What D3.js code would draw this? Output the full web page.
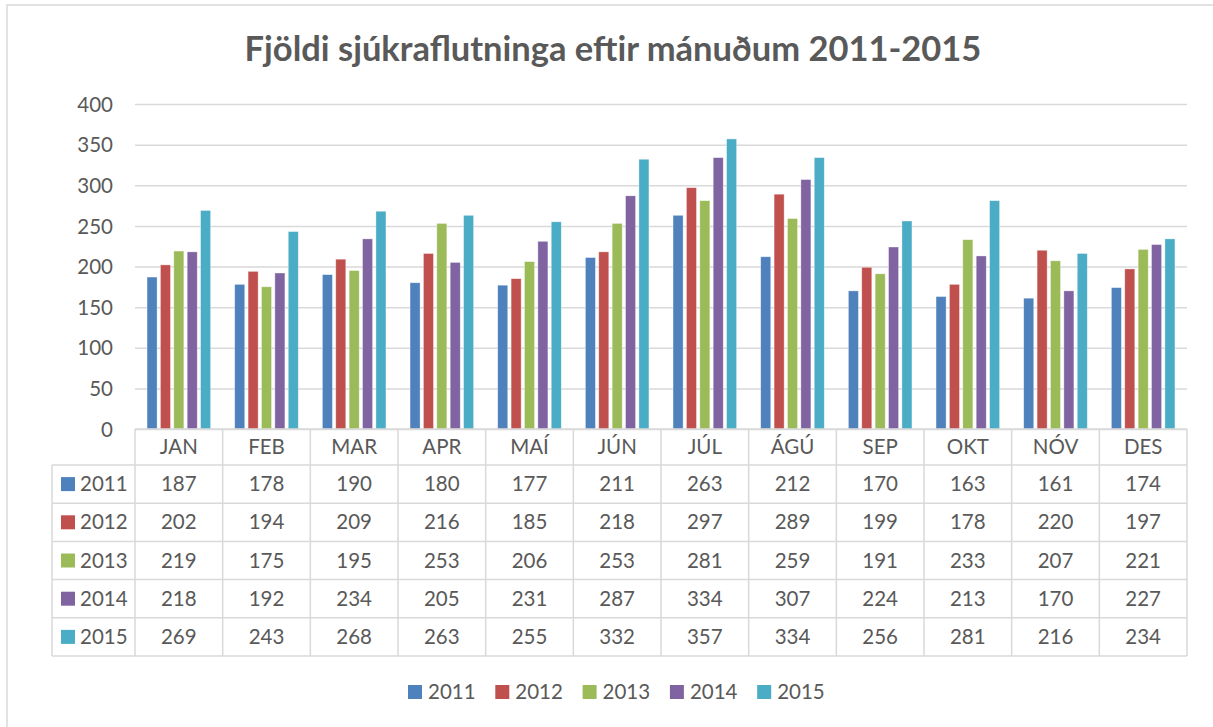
<!DOCTYPE html>
<html><head><meta charset="utf-8">
<script src="https://cdn.jsdelivr.net/npm/d3@7"></script>
<style>body{margin:0;background:#fff;} svg{display:block;}</style>
</head><body>
<svg id="c" width="1213" height="727"></svg>
<script>
const months = ["JAN","FEB","MAR","APR","MAÍ","JÚN","JÚL","ÁGÚ","SEP","OKT","NÓV","DES"];
const seriesNames = ["2011","2012","2013","2014","2015"];
const v2011 = [187,178,190,180,177,211,263,212,170,163,161,174];
const v2012 = [202,194,209,216,185,218,297,289,199,178,220,197];
const v2013 = [219,175,195,253,206,253,281,259,191,233,207,221];
const v2014 = [218,192,234,205,231,287,334,307,224,213,170,227];
const v2015 = [269,243,268,263,255,332,357,334,256,281,216,234];
const colors = ["#4F81BD","#C0504D","#9BBB59","#8064A2","#4BACC6"];
const yTicks = [0,50,100,150,200,250,300,350,400];
const title = "Fjöldi sjúkraflutninga eftir mánuðum 2011-2015";

const series = [v2011,v2012,v2013,v2014,v2015];
const svg = d3.select("#c");
const font = "Lato, 'Open Sans', sans-serif";
const txt = "#595959", grid = "#d9d9d9";

// outer frame
svg.append("rect").attr("x",7).attr("y",5).attr("width",1220).attr("height",740)
  .attr("fill","none").attr("stroke","#d9d9d9").attr("stroke-width",1.5);

const pLeft = 135, pRight = 1187, pTop = 104, pBottom = 429;
const x = d3.scaleBand().domain(months).range([pLeft,pRight]);
const xi = d3.scaleBand().domain(seriesNames).range([0,x.bandwidth()]).paddingOuter(0.9).paddingInner(0.25);
const y = d3.scaleLinear().domain([0,400]).range([pBottom,pTop]);

svg.append("text").attr("x",613).attr("y",61).attr("text-anchor","middle")
  .attr("font-family",font).attr("font-weight","bold").attr("font-size",34.5).attr("fill",txt).text(title);

// grid
const yAxis = d3.axisLeft(y).tickValues(yTicks).tickSize(-(pRight-pLeft)).tickPadding(22);
const ga = svg.append("g").attr("transform",`translate(${pLeft},0)`).call(yAxis);
ga.select(".domain").remove();
ga.selectAll(".tick line").attr("stroke",grid).attr("stroke-width",1.5);
ga.selectAll(".tick text").attr("font-family",font).attr("font-size",20.5).attr("fill",txt).attr("dy","0.35em");

// bars
series.forEach((vals,si)=>{
  svg.append("g").selectAll("rect").data(vals).join("rect")
    .attr("x",(d,i)=>x(months[i])+xi(seriesNames[si]))
    .attr("width",xi.bandwidth())
    .attr("y",d=>y(d)).attr("height",d=>y(0)-y(d))
    .attr("fill",colors[si]).attr("stroke","rgba(255,255,255,0.5)").attr("stroke-width",0.7);
});

// data table
const rowH = 38.2, tableLeft = 52;
const headTop = pBottom, headBot = 465;
const rowTop = i => headBot + i*rowH;
const tg = svg.append("g");
const lineAttr = s => s.attr("stroke",grid).attr("stroke-width",1.5);
lineAttr(tg.append("line").attr("x1",pLeft).attr("x2",pRight).attr("y1",headTop).attr("y2",headTop));
for(let i=0;i<=seriesNames.length;i++){
  lineAttr(tg.append("line").attr("x1",tableLeft).attr("x2",pRight).attr("y1",rowTop(i)).attr("y2",rowTop(i)));
}
const tableBot = rowTop(seriesNames.length);
lineAttr(tg.append("line").attr("x1",tableLeft).attr("x2",tableLeft).attr("y1",headBot).attr("y2",tableBot));
months.forEach(m=>{
  lineAttr(tg.append("line").attr("x1",x(m)).attr("x2",x(m)).attr("y1",headTop).attr("y2",tableBot));
});
lineAttr(tg.append("line").attr("x1",pRight).attr("x2",pRight).attr("y1",headTop).attr("y2",tableBot));

tg.selectAll("text.h").data(months).join("text").attr("class","h")
  .attr("x",d=>x(d)+x.bandwidth()/2).attr("y",(headTop+headBot)/2).attr("dy","0.35em")
  .attr("text-anchor","middle").attr("font-family",font).attr("font-size",20.5).attr("fill",txt).text(d=>d);

series.forEach((vals,si)=>{
  const cy = rowTop(si)+rowH/2;
  tg.append("rect").attr("x",61).attr("y",cy-7).attr("width",14).attr("height",14).attr("fill",colors[si]);
  tg.append("text").attr("x",80).attr("y",cy).attr("dy","0.35em").attr("font-family",font)
    .attr("font-size",20.5).attr("fill",txt).text(seriesNames[si]);
  tg.append("g").selectAll("text").data(vals).join("text")
    .attr("x",(d,i)=>x(months[i])+x.bandwidth()/2).attr("y",cy).attr("dy","0.35em")
    .attr("text-anchor","middle").attr("font-family",font).attr("font-size",20.5).attr("fill",txt).text(d=>d);
});

// legend
const lg = svg.append("g");
seriesNames.forEach((s,i)=>{
  const lx = 408 + i*87.3;
  lg.append("rect").attr("x",lx).attr("y",685).attr("width",14).attr("height",14).attr("fill",colors[i]);
  lg.append("text").attr("x",lx+20).attr("y",692).attr("dy","0.35em").attr("font-family",font)
    .attr("font-size",20.5).attr("fill",txt).text(s);
});
</script>
</body></html>
